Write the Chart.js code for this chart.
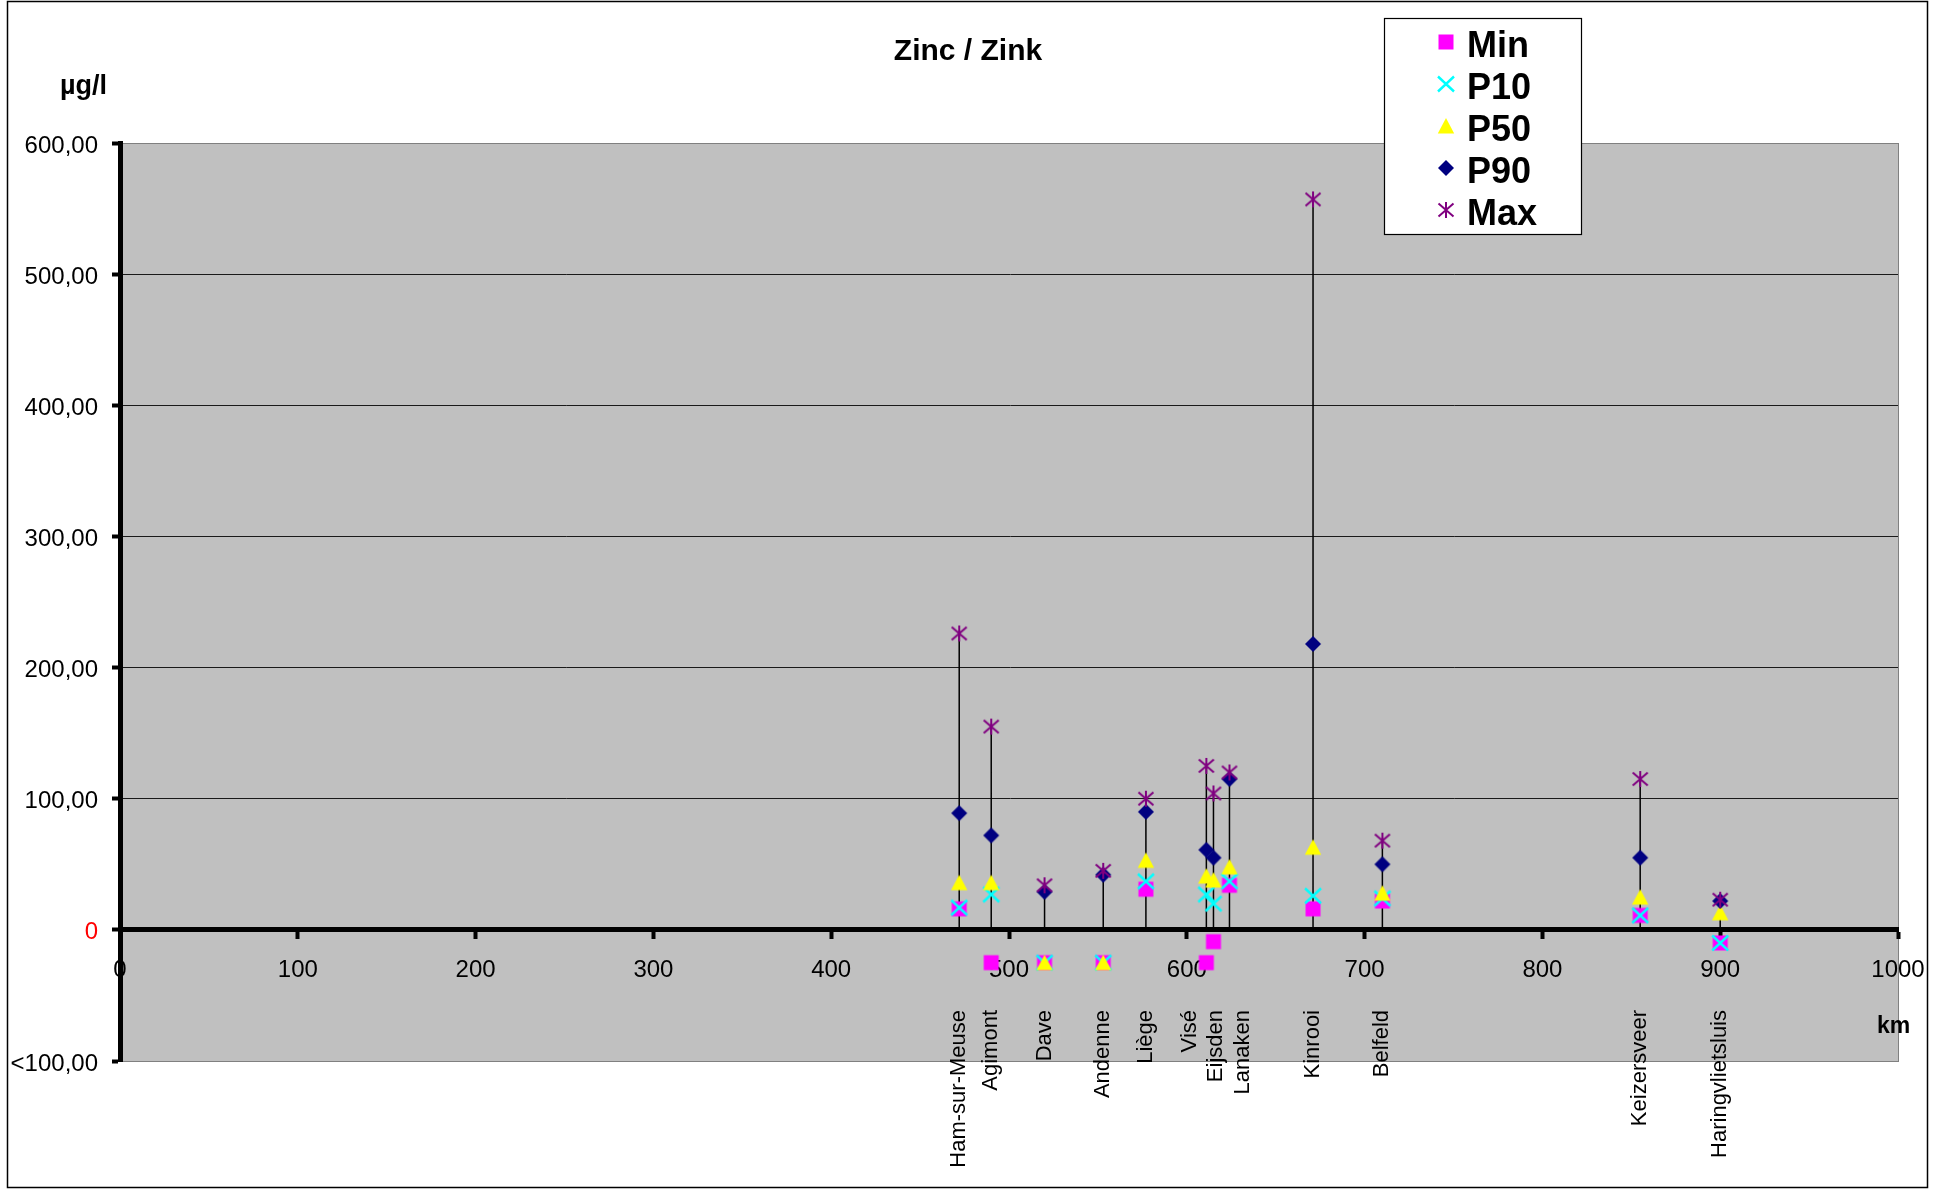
<!DOCTYPE html>
<html>
<head>
<meta charset="utf-8">
<title>Zinc / Zink</title>
<script src="https://cdn.jsdelivr.net/npm/chart.js@4.4.1/dist/chart.umd.min.js"></script>
<style>
  html, body { margin: 0; padding: 0; background: #ffffff; }
  canvas { display: block; }
</style>
</head>
<body>
<canvas id="chart" width="1950" height="1192"></canvas>
<script>
// Monitoring stations along the Meuse / Maas and their river kilometre
const stations = ['Ham-sur-Meuse', 'Agimont', 'Dave', 'Andenne', 'Liège', 'Visé',
                  'Eijsden', 'Lanaken', 'Kinrooi', 'Belfeld', 'Keizersveer', 'Haringvlietsluis'];
const stationKm = [472, 490, 520, 553, 577, 611, 615, 624, 671, 710, 855, 900];

// Zinc concentrations (µg/l); values below the reporting limit are plotted under zero
const minValues = [16, -25, -25, -25, 31, -25, -9, 34, 16, 22, 11, -10];
const p10Values = [17, 27, -25, -25, 37, 27, 20, 37, 26, 24, 11, -10];
const p50Values = [36, 36, -25, -25, 53, 41, 38, 48, 63, 28, 25, 13];
const p90Values = [89, 72, 29, 42, 90, 61, 55, 115, 218, 50, 55, 22];
const maxValues = [226, 155, 34, 45, 100, 125, 104, 120, 557, 68, 115, 23];

// Axis ticks
const kmTickValues = [0, 100, 200, 300, 400, 500, 600, 700, 800, 900, 1000];
const kmTickLabels = ['0', '100', '200', '300', '400', '500', '600', '700', '800', '900', '1000'];
const concTickValues = [-100, 0, 100, 200, 300, 400, 500, 600];
const concTickLabels = ['<100,00', '0', '100,00', '200,00', '300,00', '400,00', '500,00', '600,00'];

const FONT = "'Liberation Sans', Arial, Helvetica, sans-serif";
Chart.defaults.font.family = FONT;
Chart.defaults.color = '#000000';

// Marker glyphs (shared by the plot and the legend)
function makeMarker(kind, color) {
  const s = 22, m = s / 2;
  const c = document.createElement('canvas');
  c.width = s; c.height = s;
  const g = c.getContext('2d');
  g.fillStyle = color;
  g.strokeStyle = color;
  g.lineCap = 'butt';
  switch (kind) {
    case 'square':
      g.fillRect(m - 7.5, m - 7.5, 15, 15);
      break;
    case 'cross':
      g.lineWidth = 2.4;
      g.beginPath();
      g.moveTo(m - 8, m - 7.5); g.lineTo(m + 8, m + 7.5);
      g.moveTo(m + 8, m - 7.5); g.lineTo(m - 8, m + 7.5);
      g.stroke();
      break;
    case 'triangle':
      g.beginPath();
      g.moveTo(m, m - 8); g.lineTo(m + 8.2, m + 7.5); g.lineTo(m - 8.2, m + 7.5);
      g.closePath(); g.fill();
      break;
    case 'diamond':
      g.beginPath();
      g.moveTo(m, m - 8); g.lineTo(m + 8, m); g.lineTo(m, m + 8); g.lineTo(m - 8, m);
      g.closePath(); g.fill();
      break;
    case 'asterisk':
      g.lineWidth = 2;
      g.beginPath();
      g.moveTo(m - 7.5, m - 6.5); g.lineTo(m + 7.5, m + 6.5);
      g.moveTo(m + 7.5, m - 6.5); g.lineTo(m - 7.5, m + 6.5);
      g.moveTo(m, m - 8); g.lineTo(m, m + 8);
      g.stroke();
      break;
  }
  return c;
}

const seriesDefs = [
  { label: 'Min', values: minValues, color: '#FF00FF', kind: 'square',   order: 5 },
  { label: 'P10', values: p10Values, color: '#00FFFF', kind: 'cross',    order: 4 },
  { label: 'P50', values: p50Values, color: '#FFFF00', kind: 'triangle', order: 3 },
  { label: 'P90', values: p90Values, color: '#000080', kind: 'diamond',  order: 2 },
  { label: 'Max', values: maxValues, color: '#800080', kind: 'asterisk', order: 1 }
];
seriesDefs.forEach(d => { d.marker = makeMarker(d.kind, d.color); });

// Vertical stems from zero up to the maximum at each station
const stemData = [];
stationKm.forEach((k, i) => {
  stemData.push({ x: k, y: 0 }, { x: k, y: maxValues[i] }, { x: k, y: null });
});

const datasets = [{
  label: 'stems',
  data: stemData,
  showLine: true,
  spanGaps: false,
  borderColor: '#000000',
  borderWidth: 1.5,
  pointRadius: 0,
  order: 10
}].concat(seriesDefs.map(d => ({
  label: d.label,
  data: stationKm.map((k, i) => ({ x: k, y: d.values[i] })),
  pointStyle: d.marker,
  pointRadius: 8,
  borderColor: d.color,
  backgroundColor: d.color,
  order: d.order
})));

// Spread station names apart where stations lie too close together
function spreadPositions(pos, gap) {
  let groups = pos.map(p => ({ n: 1, center: p }));
  let merged = true;
  while (merged) {
    merged = false;
    for (let i = 0; i < groups.length - 1; i++) {
      const a = groups[i], b = groups[i + 1];
      const aEnd = a.center + (a.n - 1) * gap / 2;
      const bStart = b.center - (b.n - 1) * gap / 2;
      if (bStart - aEnd < gap) {
        const n = a.n + b.n;
        groups.splice(i, 2, { n: n, center: (a.center * a.n + b.center * b.n) / n });
        merged = true;
        break;
      }
    }
  }
  const out = [];
  groups.forEach(g => {
    for (let k = 0; k < g.n; k++) out.push(g.center + (k - (g.n - 1) / 2) * gap);
  });
  return out;
}

const framePlugin = {
  id: 'frame',
  beforeDraw(chart) {
    const { ctx, chartArea: a } = chart;
    ctx.save();
    ctx.fillStyle = '#ffffff';
    ctx.fillRect(0, 0, chart.width, chart.height);
    // outer frame
    ctx.strokeStyle = '#000000';
    ctx.lineWidth = 1.5;
    ctx.strokeRect(7.5, 1.5, 1920, 1186);
    // plot area
    ctx.fillStyle = '#C0C0C0';
    ctx.fillRect(a.left, a.top, a.right - a.left, a.bottom - a.top);
    ctx.strokeStyle = '#808080';
    ctx.lineWidth = 1;
    ctx.strokeRect(a.left + 0.5, a.top + 0.5, a.right - a.left, a.bottom - a.top);
    // title and axis units
    ctx.fillStyle = '#000000';
    ctx.textBaseline = 'alphabetic';
    ctx.textAlign = 'center';
    ctx.font = 'bold 30px ' + FONT;
    ctx.fillText('Zinc / Zink', 968, 60);
    ctx.textAlign = 'left';
    ctx.font = 'bold 27px ' + FONT;
    ctx.fillText('µg/l', 60, 94);
    ctx.font = 'bold 23px ' + FONT;
    ctx.fillText('km', 1877, 1033);
    ctx.restore();
  },
  afterDraw(chart) {
    const ctx = chart.ctx;
    ctx.save();
    const bx = 1384.5, by = 18.5, bw = 197, bh = 216;
    ctx.fillStyle = '#ffffff';
    ctx.fillRect(bx, by, bw, bh);
    ctx.strokeStyle = '#000000';
    ctx.lineWidth = 1.2;
    ctx.strokeRect(bx, by, bw, bh);
    ctx.font = 'bold 36px ' + FONT;
    ctx.fillStyle = '#000000';
    ctx.textAlign = 'left';
    ctx.textBaseline = 'alphabetic';
    seriesDefs.forEach((d, i) => {
      const cy = 41.5 + 42.2 * i;
      ctx.drawImage(d.marker, 1446 - d.marker.width / 2, Math.round(cy) - d.marker.height / 2);
      ctx.fillText(d.label, 1467, cy + 15);
    });
    ctx.restore();
  }
};

new Chart(document.getElementById('chart'), {
  type: 'scatter',
  data: { datasets: datasets },
  options: {
    responsive: false,
    animation: false,
    devicePixelRatio: 1,
    events: [],
    layout: { padding: { top: 143, right: 52, bottom: 131, left: 0 } },
    plugins: {
      legend: { display: false },
      title: { display: false },
      tooltip: { enabled: false }
    },
    scales: {
      x: {
        type: 'linear',
        position: { y: 0 },
        min: 0,
        max: 1000,
        afterBuildTicks: s => { s.ticks = kmTickValues.map(v => ({ value: v })); },
        ticks: {
          autoSkip: false,
          maxRotation: 0,
          font: { size: 24 },
          color: '#000000',
          padding: 19,
          callback: (v, i) => kmTickLabels[i]
        },
        grid: {
          drawOnChartArea: false,
          drawTicks: true,
          tickLength: 7,
          tickWidth: 4,
          tickColor: '#000000'
        },
        border: { display: true, color: '#000000', width: 5 },
        afterFit: s => { s.height = 0; }
      },
      stationAxis: {
        type: 'linear',
        axis: 'x',
        position: { y: -100 },
        min: 0,
        max: 1000,
        afterBuildTicks: s => { s.ticks = spreadPositions(stationKm, 15).map(v => ({ value: v })); },
        ticks: {
          autoSkip: false,
          minRotation: 90,
          maxRotation: 90,
          font: { size: 22 },
          color: '#000000',
          padding: -59,
          callback: (v, i) => stations[i]
        },
        grid: { display: false },
        border: { display: false },
        afterFit: s => { s.height = 0; }
      },
      y: {
        type: 'linear',
        position: 'left',
        min: -100,
        max: 600,
        afterBuildTicks: s => { s.ticks = concTickValues.map(v => ({ value: v })); },
        ticks: {
          font: { size: 24 },
          color: ctx => (ctx.tick && ctx.tick.value === 0) ? '#FF0000' : '#000000',
          padding: 14,
          labelOffset: 3,
          callback: (v, i) => concTickLabels[i]
        },
        grid: {
          color: ctx => (ctx.tick && ctx.tick.value > 0 && ctx.tick.value < 600) ? '#1a1a1a' : 'rgba(0,0,0,0)',
          lineWidth: 1,
          drawTicks: true,
          tickLength: 8,
          tickWidth: 4,
          tickColor: '#000000'
        },
        border: { color: '#000000', width: 5 },
        afterFit: s => { s.width = 120; }
      }
    }
  },
  plugins: [framePlugin]
});
</script>
</body>
</html>
